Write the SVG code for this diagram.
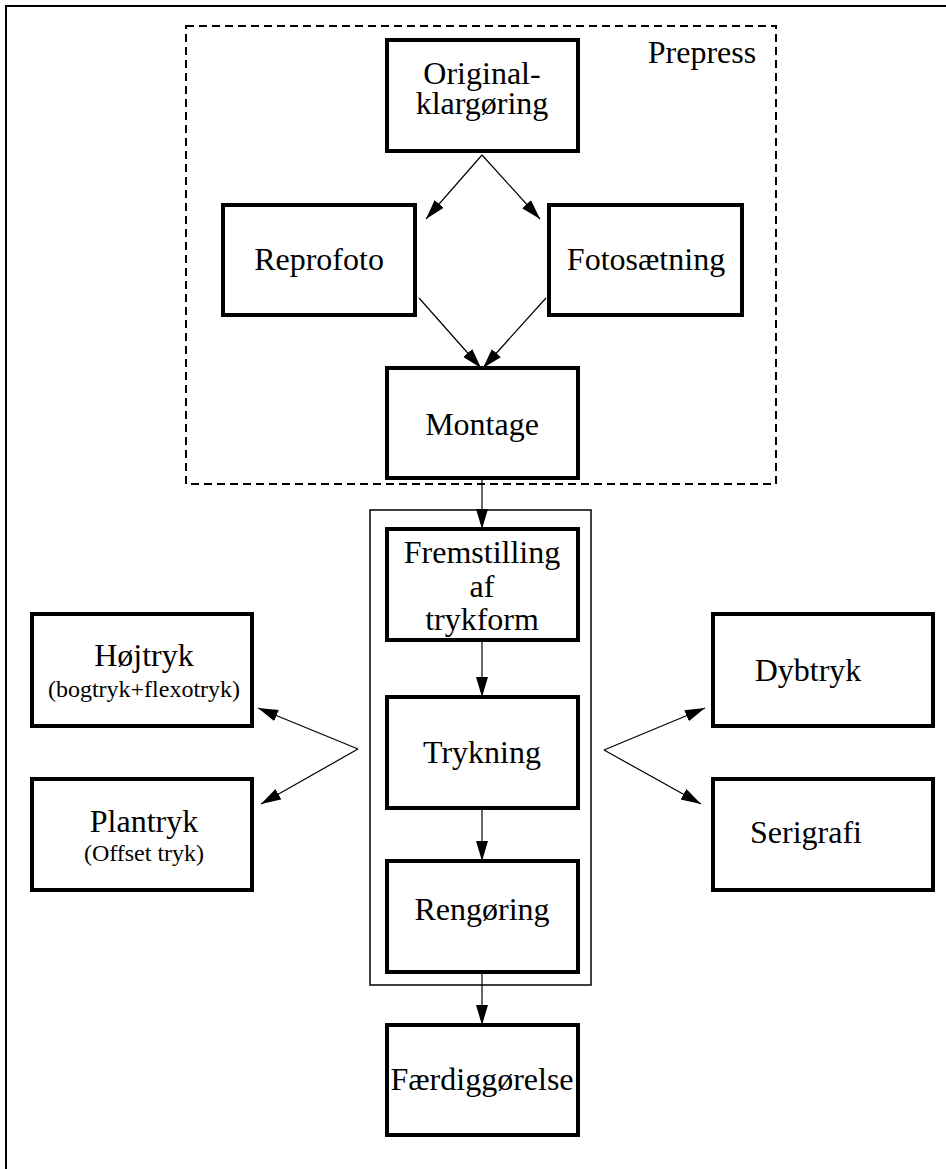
<svg xmlns="http://www.w3.org/2000/svg" width="946" height="1169" viewBox="0 0 946 1169">
<defs>
<style>
.box{fill:#fff;stroke:#000;stroke-width:4}
.t{font-family:"Liberation Serif","Times New Roman",serif;font-size:32px;fill:#000;text-anchor:middle}
.s{font-family:"Liberation Serif","Times New Roman",serif;font-size:24px;fill:#000;text-anchor:middle}
.c{stroke:#000;stroke-width:1.2;fill:none;marker-end:url(#ah)}
</style>
<marker id="ah" markerUnits="userSpaceOnUse" markerWidth="22" markerHeight="14" refX="20" refY="6" orient="auto">
<path d="M0,0 L20,6 L0,12 Z" fill="#000"/>
</marker>
</defs>
<rect x="0" y="0" width="946" height="1169" fill="#fff"/>
<rect id="frame" x="6" y="6" width="1000" height="1200" fill="none" stroke="#000" stroke-width="2"/>
<g id="prepress">
<rect x="186" y="26" width="590" height="458" fill="none" stroke="#000" stroke-width="2" stroke-dasharray="8,5"/>
<text class="t" x="702" y="63">Prepress</text>
</g>
<g id="printing-group">
<rect x="370" y="510" width="221" height="475" fill="none" stroke="#000" stroke-width="1.5"/>
</g>
<g id="connectors">
<line class="c" x1="482" y1="155" x2="426" y2="219"/>
<line class="c" x1="482" y1="155" x2="540" y2="219"/>
<line class="c" x1="419" y1="298" x2="481" y2="368"/>
<line class="c" x1="546" y1="298" x2="483" y2="368"/>
<line class="c" x1="482" y1="478" x2="482" y2="529"/>
<line class="c" x1="482" y1="640" x2="482" y2="697"/>
<line class="c" x1="482" y1="808" x2="482" y2="861"/>
<line class="c" x1="482" y1="972" x2="482" y2="1025"/>
<line class="c" x1="358" y1="749" x2="258" y2="708"/>
<line class="c" x1="358" y1="749" x2="261" y2="804"/>
<line class="c" x1="604" y1="750" x2="705" y2="708"/>
<line class="c" x1="604" y1="750" x2="701" y2="804"/>
</g>
<g id="original">
<rect class="box" x="387" y="40" width="191" height="111"/>
<text class="t" x="482" y="84">Original-</text>
<text class="t" x="482" y="114">klargøring</text>
</g>
<g id="reprofoto">
<rect class="box" x="223" y="205" width="192" height="110"/>
<text class="t" x="319" y="270">Reprofoto</text>
</g>
<g id="fotosaetning">
<rect class="box" x="549" y="205" width="193" height="110"/>
<text class="t" x="646" y="270">Fotosætning</text>
</g>
<g id="montage">
<rect class="box" x="387" y="368" width="191" height="110"/>
<text class="t" x="482" y="435">Montage</text>
</g>
<g id="fremstilling">
<rect class="box" x="387" y="529" width="191" height="111"/>
<text class="t" x="482" y="563">Fremstilling</text>
<text class="t" x="482" y="597">af</text>
<text class="t" x="482" y="630">trykform</text>
</g>
<g id="trykning">
<rect class="box" x="387" y="697" width="191" height="111"/>
<text class="t" x="482" y="763">Trykning</text>
</g>
<g id="rengoring">
<rect class="box" x="387" y="861" width="191" height="111"/>
<text class="t" x="482" y="920">Rengøring</text>
</g>
<g id="faerdiggorelse">
<rect class="box" x="387" y="1025" width="191" height="110"/>
<text class="t" x="482" y="1090">Færdiggørelse</text>
</g>
<g id="hojtryk">
<rect class="box" x="32" y="614" width="220" height="112"/>
<text class="t" x="144" y="666">Højtryk</text>
<text class="s" x="144" y="697">(bogtryk+flexotryk)</text>
</g>
<g id="plantryk">
<rect class="box" x="32" y="779" width="220" height="111"/>
<text class="t" x="144" y="832">Plantryk</text>
<text class="s" x="144" y="861">(Offset tryk)</text>
</g>
<g id="dybtryk">
<rect class="box" x="713" y="614" width="220" height="112"/>
<text class="t" x="808" y="681">Dybtryk</text>
</g>
<g id="serigrafi">
<rect class="box" x="713" y="779" width="220" height="111"/>
<text class="t" x="806" y="843">Serigrafi</text>
</g>
</svg>
